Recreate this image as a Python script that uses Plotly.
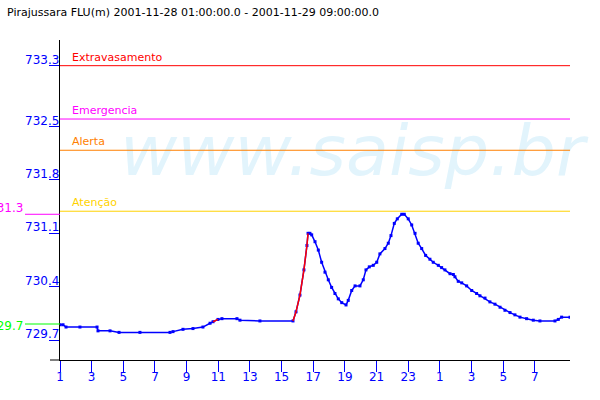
import plotly.graph_objects as go

# ---- data ----
title_text = "Pirajussara FLU(m) 2001-11-28 01:00:00.0 - 2001-11-29 09:00:00.0"

hours = [0.0, 0.19, 0.38, 1.26, 2.34, 2.40, 3.16, 3.73, 5.05, 6.95, 7.14, 7.77, 8.40, 9.03,
         9.48, 9.67, 9.98, 10.23, 11.18, 11.37, 12.63, 14.72, 14.91, 15.16, 15.41, 15.60,
         15.67, 15.79, 15.90, 16.11, 16.32, 16.53, 16.74, 16.95, 17.16, 17.37, 17.58, 17.80,
         18.07, 18.21, 18.43, 18.64, 18.95, 19.16, 19.33, 19.54, 19.79, 20.01, 20.21, 20.53,
         20.74, 20.91, 21.12, 21.31, 21.59, 21.75, 22.00, 22.22, 22.43, 22.63, 22.85, 23.10,
         23.37, 23.58, 23.90, 24.11, 24.32, 24.64, 24.85, 24.95, 25.16, 25.38, 25.69, 26.01,
         26.32, 26.53, 26.85, 27.16, 27.48, 27.80, 28.11, 28.43, 28.74, 29.06, 29.48, 29.90,
         30.32, 31.27, 31.48, 31.69, 32.22]
levels = [729.90, 729.90, 729.87, 729.87, 729.87, 729.82, 729.82, 729.80, 729.80, 729.80,
          729.81, 729.84, 729.85, 729.87, 729.92, 729.94, 729.97, 729.98, 729.98, 729.96,
          729.95, 729.95, 730.07, 730.29, 730.62, 730.94, 731.10, 731.10, 731.08, 730.99,
          730.88, 730.72, 730.59, 730.49, 730.39, 730.31, 730.24, 730.19, 730.16, 730.22,
          730.35, 730.41, 730.41, 730.49, 730.62, 730.66, 730.68, 730.72, 730.83, 730.90,
          730.97, 731.07, 731.23, 731.29, 731.35, 731.35, 731.29, 731.21, 731.10, 730.97,
          730.90, 730.81, 730.76, 730.72, 730.68, 730.65, 730.62, 730.57, 730.56, 730.53,
          730.47, 730.45, 730.41, 730.35, 730.31, 730.28, 730.25, 730.20, 730.17, 730.13,
          730.09, 730.06, 730.03, 730.00, 729.98, 729.96, 729.95, 729.95, 729.97, 730.00,
          730.00]
rising_ranges = [(9.67, 9.98), (14.72, 15.67)]

threshold_names = ["Extravasamento", "Emergencia", "Alerta", "Atenção"]
threshold_values = [733.30, 732.60, 732.19, 731.39]
threshold_colors = ["#FF0000", "#FF00FF", "#FF8000", "#FFD200"]

side_labels = ["731.3", "729.7"]
side_values = [731.35, 729.91]
side_colors = ["#FF00FF", "#00FF00"]

ytick_vals = [729.7, 730.4, 731.1, 731.8, 732.5, 733.3]
ytick_text = ["729.7", "730.4", "731.1", "731.8", "732.5", "733.3"]
xtick_vals = [0, 2, 4, 6, 8, 10, 12, 14, 16, 18, 20, 22, 24, 26, 28, 30]
xtick_text = ["1", "3", "5", "7", "9", "11", "13", "15", "17", "19", "21", "23", "1", "3", "5", "7"]

watermark = "www.saisp.br"

# ---- geometry ----
W, H = 600, 400
ML, MR, MT, MB = 60, 30, 40, 40
PW = W - ML - MR
PH = H - MT - MB
X_MAX = 32.22
Y_MIN, Y_MAX = 729.4375, 733.637

def px_x(p):
    return (p - ML) / PW

def px_y(p):
    return (H - MB - p) / PH

FONT = "DejaVu Sans"
BLUE = "#0000FF"

fig = go.Figure()

# watermark (drawn first, behind lines)
fig.add_trace(go.Scatter(
    x=[3.79], y=[732.10], mode="text", text=[watermark], textposition="middle right",
    textfont=dict(family=FONT, size=70, color="#E2F4FC", style="italic"),
    cliponaxis=False, showlegend=False, hoverinfo="skip"))

# threshold lines
for name, val, col in zip(threshold_names, threshold_values, threshold_colors):
    fig.add_trace(go.Scatter(x=[0, X_MAX], y=[val, val], mode="lines",
                             line=dict(color=col, width=1), showlegend=False, hoverinfo="skip"))
    fig.add_annotation(x=0.63, y=val, xref="x", yref="y", text=name, showarrow=False,
                       xanchor="left", yanchor="bottom", yshift=0,
                       font=dict(family=FONT, size=11, color=col))

# data line
fig.add_trace(go.Scatter(x=hours, y=levels, mode="lines+markers",
                         line=dict(color=BLUE, width=1.5),
                         marker=dict(color=BLUE, size=3, symbol="square"),
                         showlegend=False))

# red rising segments
red_y = [v if any(a <= h <= b for a, b in rising_ranges) else None for h, v in zip(hours, levels)]
fig.add_trace(go.Scatter(x=hours, y=red_y, mode="lines", line=dict(color="#FF0000", width=1.5),
                         connectgaps=False, showlegend=False))

# y tick labels
for v, t in zip(ytick_vals, ytick_text):
    fig.add_annotation(x=0, y=v, xref="x", yref="y", text=t, showarrow=False,
                       xanchor="right", yanchor="bottom", yshift=-3, xshift=1,
                       font=dict(family=FONT, size=12, color=BLUE))

# side labels
for t, v, c in zip(side_labels, side_values, side_colors):
    fig.add_shape(type="line", xref="paper", yref="y", x0=px_x(25), x1=0, y0=v, y1=v,
                  line=dict(color=c, width=1))
fig.add_annotation(x=px_x(25), y=side_values[0], xref="paper", yref="y", text=side_labels[0],
                   showarrow=False, xanchor="right", yanchor="bottom", yshift=-3,
                   font=dict(family=FONT, size=12, color=side_colors[0]))
fig.add_annotation(x=px_x(25), y=side_values[1], xref="paper", yref="y", text=side_labels[1],
                   showarrow=False, xanchor="right", yanchor="bottom", yshift=-11,
                   font=dict(family=FONT, size=12, color=side_colors[1]))

# x-axis extension to the left
fig.add_shape(type="line", xref="paper", yref="paper", x0=px_x(50), x1=0, y0=0, y1=0,
              line=dict(color="black", width=1))

# title
fig.add_annotation(x=px_x(5), y=px_y(12), xref="paper", yref="paper", text=title_text,
                   showarrow=False, xanchor="left", yanchor="middle",
                   font=dict(family=FONT, size=11, color="black"))

fig.update_layout(
    width=W, height=H, margin=dict(l=ML, r=MR, t=MT, b=MB),
    paper_bgcolor="white", plot_bgcolor="white", showlegend=False,
    font=dict(family=FONT, size=12, color=BLUE),
    xaxis=dict(range=[0, X_MAX], showgrid=False, zeroline=False, showline=True,
               linecolor="black", linewidth=1, ticks="outside", ticklen=11, tickwidth=1,
               tickcolor=BLUE, tickvals=xtick_vals, ticktext=xtick_text,
               ticklabelstandoff=-5,
               tickfont=dict(family=FONT, size=12, color=BLUE)),
    yaxis=dict(range=[Y_MIN, Y_MAX], showgrid=False, zeroline=False, showline=True,
               linecolor="black", linewidth=1, ticks="outside", ticklen=10, tickwidth=1,
               tickcolor=BLUE, tickvals=ytick_vals, showticklabels=False),
)

fig.write_html("out.html", config={"displayModeBar": False},
               post_script="document.body.style.margin='0';document.body.style.overflow='hidden';")
